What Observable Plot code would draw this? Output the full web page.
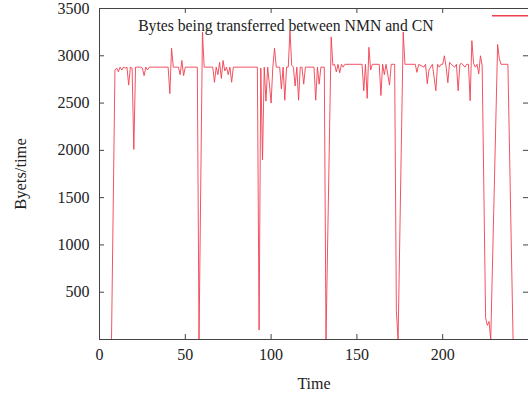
<!DOCTYPE html>
<html>
<head>
<meta charset="utf-8">
<script src="https://cdn.jsdelivr.net/npm/d3@7"></script>
<script src="https://cdn.jsdelivr.net/npm/@observablehq/plot@0.6"></script>
<style>
  html, body { margin: 0; padding: 0; background: #fff; }
  #wrap { position: relative; width: 528px; height: 396px; overflow: hidden; }
</style>
</head>
<body>
<div id="wrap"></div>
<script>
const legendLabel = "Bytes being transferred between NMN and CN";
const xLabel = "Time";
const yLabel = "Byets/time";
const xTicks = [0, 50, 100, 150, 200, 250];
const xTickLabels = ["0", "50", "100", "150", "200", ""];
const yTicks = [500, 1000, 1500, 2000, 2500, 3000, 3500];

const times = [
  7, 9, 10, 11, 12, 13, 14, 15, 16, 17, 18, 19, 20, 21, 24, 25, 26, 27, 28, 29,
  40, 41, 42, 43, 46, 47, 48, 49, 50, 57, 58, 60, 61, 66, 67, 68, 69, 70, 71, 72,
  73, 74, 75, 76, 77, 78, 92, 93, 94, 95, 96, 97, 98, 99, 100, 101, 102, 103, 105, 106,
  107, 108, 109, 110, 111, 112, 113, 114, 115, 116, 117, 118, 119, 120, 125, 126, 127, 128, 129, 131,
  132, 135, 136, 137, 138, 139, 140, 141, 142, 143, 153, 154, 155, 156, 157, 158, 159, 163, 164, 165,
  166, 167, 169, 170, 172, 173, 174, 177, 178, 184, 185, 186, 189, 190, 191, 192, 194, 196, 197, 198,
  199, 200, 201, 202, 203, 204, 205, 207, 208, 209, 210, 211, 213, 214, 215, 216, 217, 218, 219, 220,
  221, 222, 223, 225, 226, 227, 228, 232, 233, 234, 238, 241
];
const bytes = [
  0, 2850, 2870, 2830, 2880, 2850, 2880, 2870, 2880, 2690, 2880, 2870, 2010, 2880, 2880, 2870, 2790, 2880, 2850, 2880,
  2880, 2600, 3080, 2880, 2880, 2800, 2950, 2790, 2880, 2880, 0, 3250, 2880, 2880, 2720, 2880, 2800, 2930, 2760, 2950,
  2840, 2880, 2800, 2880, 2720, 2880, 2880, 100, 2870, 1900, 2880, 2520, 2880, 2700, 2500, 2880, 3080, 2880, 2880, 2650,
  2880, 2530, 2880, 2880, 3270, 2900, 2880, 2680, 2880, 2530, 2880, 2880, 2700, 2880, 2880, 2530, 2880, 2700, 2880, 2880,
  0, 3200, 2900, 2910, 2830, 2910, 2820, 2910, 2880, 2910, 2910, 2630, 2910, 2550, 3090, 2850, 2910, 2910, 2580, 2910,
  2800, 2910, 2690, 2910, 2910, 300, 0, 3250, 2910, 2910, 2825, 2910, 2880, 2910, 2705, 2850, 2910, 2630, 2910, 2880,
  2910, 2910, 3000, 2880, 2715, 2930, 2910, 2880, 2910, 2630, 2910, 2920, 2880, 2910, 2910, 2525, 3160, 2920, 2880, 2910,
  2810, 3000, 2900, 230, 150, 190, 0, 3120, 2970, 2910, 2910, 0
];

const data = times.map((t, i) => ({t, v: bytes[i]}));

const W = 528, H = 396;
const mL = 99, mT = 8, mR = 0, mB = 57;
const plotW = W - mL - mR, plotH = H - mT - mB;
const tickLen = 5;
const lineColor = "#f04050";
const axisColor = "#444";
const textColor = "#222";
const font = "'Liberation Serif', 'DejaVu Serif', serif";

const chart = Plot.plot({
  width: W,
  height: H,
  marginLeft: mL,
  marginTop: mT,
  marginRight: mR,
  marginBottom: mB,
  style: {fontFamily: font, fontSize: "16px", color: textColor, background: "#fff"},
  x: {domain: [0, 250]},
  y: {domain: [0, 3500]},
  marks: [
    Plot.line(data, {x: "t", y: "v", stroke: lineColor, strokeWidth: 0.9}),
    Plot.frame({stroke: axisColor, strokeWidth: 1}),
    Plot.tickY(yTicks, {y: d => d, stroke: axisColor, insetRight: plotW - tickLen}),
    Plot.tickY(yTicks, {y: d => d, stroke: axisColor, insetLeft: plotW - tickLen}),
    Plot.tickX(xTicks, {x: d => d, stroke: axisColor, insetTop: plotH - tickLen}),
    Plot.tickX(xTicks, {x: d => d, stroke: axisColor, insetBottom: plotH - tickLen}),
    Plot.axisY({ticks: yTicks, tickSize: 0, tickPadding: 10, label: null, fill: textColor, fontSize: 16,
                tickFormat: d3.format("d")}),
    Plot.axisX({ticks: xTicks, tickSize: 0, tickPadding: 9, label: null, fill: textColor, fontSize: 16,
                tickFormat: d => xTickLabels[xTicks.indexOf(d)]}),
    Plot.text([xLabel], {frameAnchor: "bottom", dy: 49, fill: textColor, fontSize: 16}),
    Plot.text([yLabel], {frameAnchor: "left", dx: -79, rotate: -90, textAnchor: "middle", fill: textColor, fontSize: 16.5}),
    Plot.text([legendLabel], {frameAnchor: "top-right", dx: -95, dy: 11, textAnchor: "end", fill: textColor, fontSize: 15.7})
  ]
});
// legend sample (top-right key), drawn as a thin filled rectangle
const key = document.createElementNS("http://www.w3.org/2000/svg", "rect");
key.setAttribute("x", W - 36);
key.setAttribute("y", 15);
key.setAttribute("width", 40);
key.setAttribute("height", 1.5);
key.setAttribute("fill", lineColor);
chart.appendChild(key);
document.getElementById("wrap").appendChild(chart);
</script>
</body>
</html>
